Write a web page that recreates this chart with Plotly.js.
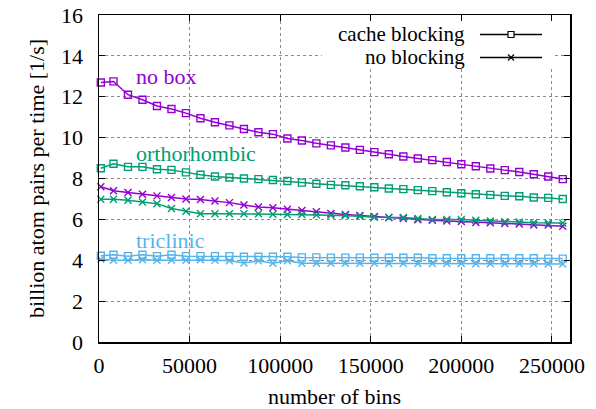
<!DOCTYPE html>
<html>
<head>
<meta charset="utf-8">
<script src="https://cdn.plot.ly/plotly-3.0.1.min.js"></script>
<style>html,body{margin:0;padding:0;background:#fff;}#chart{width:596px;height:409px;}</style>
</head>
<body>
<div id="chart"></div>
<script>
const bins = [1000, 8000, 16000, 24000, 32000, 40000, 48000, 56000, 64000, 72000, 80000,
  88000, 96000, 104000, 112000, 120000, 128000, 136000, 144000, 152000, 160000,
  168000, 176000, 184000, 192000, 200000, 208000, 216000, 224000, 232000, 240000, 248000, 256000];
const noBoxCache = [12.7, 12.75, 12.1, 11.85, 11.55, 11.4, 11.2, 10.95, 10.75, 10.6, 10.42, 10.26, 10.17, 9.96, 9.86, 9.72, 9.62, 9.52, 9.40, 9.29, 9.19, 9.08, 8.98, 8.90, 8.81, 8.70, 8.60, 8.49, 8.41, 8.32, 8.21, 8.10, 7.97];
const noBoxNoBlock = [7.6, 7.4, 7.31, 7.23, 7.15, 7.07, 7.0, 6.97, 6.9, 6.82, 6.7, 6.6, 6.57, 6.5, 6.43, 6.37, 6.29, 6.24, 6.19, 6.14, 6.09, 6.04, 5.98, 5.96, 5.92, 5.90, 5.85, 5.83, 5.80, 5.77, 5.73, 5.72, 5.66];
const orthoCache = [8.5, 8.72, 8.57, 8.57, 8.45, 8.42, 8.3, 8.18, 8.1, 8.05, 8.0, 7.97, 7.93, 7.88, 7.8, 7.74, 7.69, 7.67, 7.62, 7.57, 7.51, 7.48, 7.43, 7.38, 7.33, 7.28, 7.23, 7.20, 7.15, 7.13, 7.07, 7.05, 7.0];
const orthoNoBlock = [6.99, 6.99, 6.94, 6.85, 6.77, 6.53, 6.4, 6.28, 6.28, 6.28, 6.28, 6.27, 6.25, 6.24, 6.24, 6.21, 6.2, 6.19, 6.15, 6.10, 6.09, 6.09, 6.04, 6.0, 6.0, 6.0, 5.96, 5.92, 5.89, 5.87, 5.84, 5.82, 5.82];
const tricCache = [4.22, 4.27, 4.2, 4.27, 4.2, 4.27, 4.2, 4.2, 4.2, 4.2, 4.17, 4.17, 4.17, 4.17, 4.14, 4.14, 4.13, 4.13, 4.13, 4.12, 4.12, 4.12, 4.12, 4.1, 4.1, 4.1, 4.1, 4.1, 4.1, 4.1, 4.1, 4.08, 4.08];
const tricNoBlock = [4.05, 4.0, 4.0, 4.03, 4.0, 4.0, 4.0, 4.03, 4.0, 3.97, 3.87, 3.97, 3.85, 3.97, 3.85, 3.85, 3.85, 3.85, 3.85, 3.85, 3.84, 3.84, 3.84, 3.84, 3.84, 3.84, 3.83, 3.83, 3.83, 3.83, 3.83, 3.82, 3.82];
const xTicks = [0, 50000, 100000, 150000, 200000, 250000];
const yTicks = [0, 2, 4, 6, 8, 10, 12, 14, 16];
const groupLabels = ['no box', 'orthorhombic', 'triclinic'];
const groupLabelPos = [[19500, 13.0], [19500, 9.2], [19500, 4.95]];
const legendLabels = ['cache blocking', 'no blocking'];

const PURPLE = '#9400d3', GREEN = '#009e73', BLUE = '#56b4e9';
const FONT = 'Liberation Serif';
const FS = 22;

function tr(y, color, sym) {
  return {
    x: bins, y: y, type: 'scatter', mode: 'lines+markers', cliponaxis: false,
    line: {color: color, width: 1.5},
    marker: {symbol: sym, size: 7, color: color, line: {color: color, width: 1.4}},
    showlegend: false, hoverinfo: 'skip'
  };
}
const data = [
  tr(noBoxCache, PURPLE, 'square-open'),
  tr(noBoxNoBlock, PURPLE, 'x-thin-open'),
  tr(orthoCache, GREEN, 'square-open'),
  tr(orthoNoBlock, GREEN, 'x-thin-open'),
  tr(tricCache, BLUE, 'square-open'),
  tr(tricNoBlock, BLUE, 'x-thin-open')
];

const W = 596, H = 409;
const M = {l: 99, r: 26, t: 15, b: 67};
const pw = W - M.l - M.r, ph = H - M.t - M.b;
function px2paperX(px) { return (px - M.l) / pw; }
function px2paperY(py) { return (H - M.b - py) / ph; }

const shapes = [];
// legend background (covers the grid)
shapes.push({type: 'rect', xref: 'x', yref: 'y', layer: 'between',
  x0: 123000, x1: 251500, y0: 13.5, y1: 15.9,
  fillcolor: '#fff', line: {width: 0}});
const legRows = [34.5, 57.5];
const sx0 = px2paperX(480), sx1 = px2paperX(542), smx = 511;
legRows.forEach((py, i) => {
  shapes.push({type: 'line', xref: 'paper', yref: 'paper', x0: sx0, x1: sx1,
    y0: px2paperY(py), y1: px2paperY(py), line: {color: '#000', width: 1.3}});
});
// square sample
shapes.push({type: 'rect', xref: 'paper', yref: 'paper',
  x0: px2paperX(smx - 3), x1: px2paperX(smx + 3), y0: px2paperY(legRows[0] + 3), y1: px2paperY(legRows[0] - 3),
  fillcolor: '#fff', line: {color: '#000', width: 1.2}});
// x sample
shapes.push({type: 'line', xref: 'paper', yref: 'paper',
  x0: px2paperX(smx - 3), x1: px2paperX(smx + 3), y0: px2paperY(legRows[1] + 3), y1: px2paperY(legRows[1] - 3),
  line: {color: '#000', width: 1.2}});
shapes.push({type: 'line', xref: 'paper', yref: 'paper',
  x0: px2paperX(smx - 3), x1: px2paperX(smx + 3), y0: px2paperY(legRows[1] - 3), y1: px2paperY(legRows[1] + 3),
  line: {color: '#000', width: 1.2}});

const annotations = [];
const labelColors = [PURPLE, GREEN, BLUE];
groupLabels.forEach((t, i) => {
  annotations.push({text: t, x: groupLabelPos[i][0], y: groupLabelPos[i][1], xref: 'x', yref: 'y',
    xanchor: 'left', yanchor: 'middle', showarrow: false,
    font: {family: FONT, size: FS, color: labelColors[i]}});
});
legendLabels.forEach((t, i) => {
  annotations.push({text: t, x: px2paperX(467), y: px2paperY(legRows[i]), xref: 'paper', yref: 'paper',
    xanchor: 'right', yanchor: 'middle', showarrow: false,
    font: {family: FONT, size: 21, color: '#000'}});
});

const axisCommon = {
  showline: true, linecolor: '#000', linewidth: 1.5, mirror: 'allticks',
  ticks: 'inside', ticklen: 6, tickwidth: 1, tickcolor: '#000',
  showgrid: true, gridcolor: '#8a8a8a', gridwidth: 1, griddash: 'dot',
  zeroline: false, tickfont: {family: FONT, size: FS, color: '#000'}
};

const layout = {
  width: W, height: H, margin: M,
  paper_bgcolor: '#fff', plot_bgcolor: '#fff',
  font: {family: FONT, size: FS, color: '#000'},
  showlegend: false,
  xaxis: Object.assign({}, axisCommon, {
    range: [0, 260000], tickvals: xTicks, ticktext: xTicks.map(String),
    ticklabelstandoff: 3,
    title: {text: 'number of bins', font: {family: FONT, size: FS, color: '#000'}, standoff: 17}
  }),
  yaxis: Object.assign({}, axisCommon, {
    range: [0, 16], tickvals: yTicks, ticktext: yTicks.map(String),
    ticklabelstandoff: 10,
    title: {text: 'billion atom pairs per time [1/s]', font: {family: FONT, size: FS, color: '#000'}, standoff: 10}
  }),
  shapes: shapes,
  annotations: annotations
};

Plotly.newPlot('chart', data, layout, {staticPlot: true, displayModeBar: false});
</script>
</body>
</html>
